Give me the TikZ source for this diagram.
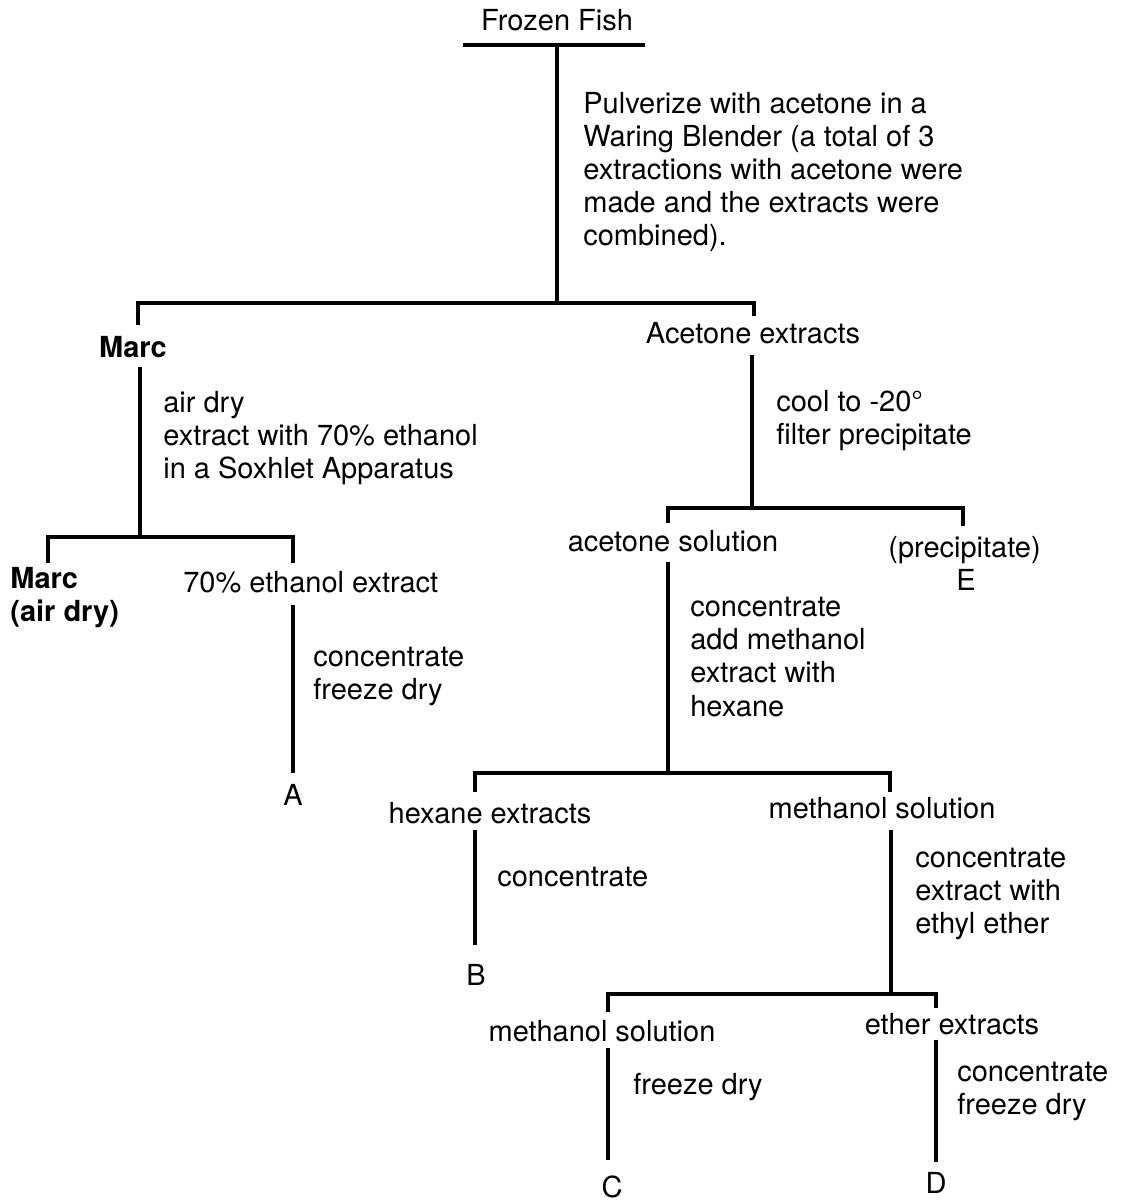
\documentclass[tikz,border=0pt]{standalone}
\usepackage{fontspec}
\setmainfont{TeX Gyre Heros}
\newcommand\fishsize{\fontsize{16.5}{18.8}\selectfont}

\begin{document}
\begin{tikzpicture}[x=0.02cm, y=-0.02cm,
  every node/.style={inner sep=0pt, font=\fishsize},
  stem/.style={line width=2.3pt},
  note/.style={anchor=west, align=left}]
\useasboundingbox (0,0) rectangle (1123,1202);
% labels
\node (fish) at (557,20) {Frozen Fish};
\node[note] (pulv) at (583,172) {Pulverize with acetone in a\\Waring Blender (a total of 3\\extractions with acetone were\\made and the extracts were\\combined).};
\node[font=\fishsize\bfseries] (marc) at (133,347) {Marc};
\node (acet) at (753,333) {Acetone extracts};
\node[note] (soxh) at (163,438) {air dry\\extract with 70\% ethanol\\in a Soxhlet Apparatus};
\node[note] (cool) at (776,421) {cool to -20°\\filter precipitate};
\node[note, font=\fishsize\bfseries] (marcdry) at (10,598) {Marc\\(air dry)};
\node[note] (etoh) at (183,582) {70\% ethanol extract};
\node[note] (concA) at (313,676) {concentrate\\freeze dry};
\node (A) at (293,795) {A};
\node (acsol) at (673,541) {acetone solution};
\node[note] (prec) at (888,550) {(precipitate)};
\node (E) at (966,580) {E};
\node[note] (conchex) at (690,657) {concentrate\\add methanol\\extract with\\hexane};
\node (hex) at (490,813) {hexane extracts};
\node (mesol) at (882,808) {methanol solution};
\node[note] (concB) at (497,877) {concentrate};
\node (B) at (476,975) {B};
\node[note] (concether) at (915,894) {concentrate\\extract with\\ethyl ether};
\node (mesolb) at (602,1031) {methanol solution};
\node (ether) at (952,1024) {ether extracts};
\node[note] (concC) at (633,1087) {freeze dry};
\node (C) at (612,1187) {C};
\node[note] (concD) at (957,1091) {concentrate\\freeze dry};
\node (D) at (936,1183) {D};
% branch points and line ends
\coordinate (fishL) at (463,45);
\coordinate (fishR) at (645,45);
\coordinate (split1) at (557,303);
\coordinate (marcT) at (138,325);
\coordinate (acetT) at (754,316);
\coordinate (marcB) at (140,367);
\coordinate (split2) at (140,537);
\coordinate (marcdryT) at (48,563);
\coordinate (etohT) at (293,563);
\coordinate (etohB) at (293,605);
\coordinate (AT) at (293,773);
\coordinate (acetB) at (752,355);
\coordinate (split3) at (752,508);
\coordinate (acsolT) at (668,523);
\coordinate (precT) at (963,526);
\coordinate (acsolB) at (668,562);
\coordinate (split4) at (668,773);
\coordinate (hexT) at (475,792);
\coordinate (mesolT) at (890,792);
\coordinate (hexB) at (475,830);
\coordinate (BT) at (475,945);
\coordinate (mesolB) at (891,830);
\coordinate (split5) at (891,994);
\coordinate (mesolbT) at (608,1012);
\coordinate (etherT) at (936,1008);
\coordinate (mesolbB) at (608,1048);
\coordinate (CT) at (608,1160);
\coordinate (etherB) at (936,1040);
\coordinate (DT) at (936,1162);
% connectors
\draw[stem] (fishL) -- (fishR);
\draw[stem] (fishL -| split1) -- (split1);
\draw[stem] (marcT) |- (split1) -| (acetT);
\draw[stem] (marcB) -- (split2);
\draw[stem] (marcdryT) |- (split2) -| (etohT);
\draw[stem] (etohB) -- (AT);
\draw[stem] (acetB) -- (split3);
\draw[stem] (acsolT) |- (split3) -| (precT);
\draw[stem] (acsolB) -- (split4);
\draw[stem] (hexT) |- (split4) -| (mesolT);
\draw[stem] (hexB) -- (BT);
\draw[stem] (mesolB) -- (split5);
\draw[stem] (mesolbT) |- (split5) -| (etherT);
\draw[stem] (mesolbB) -- (CT);
\draw[stem] (etherB) -- (DT);
\end{tikzpicture}
\end{document}
